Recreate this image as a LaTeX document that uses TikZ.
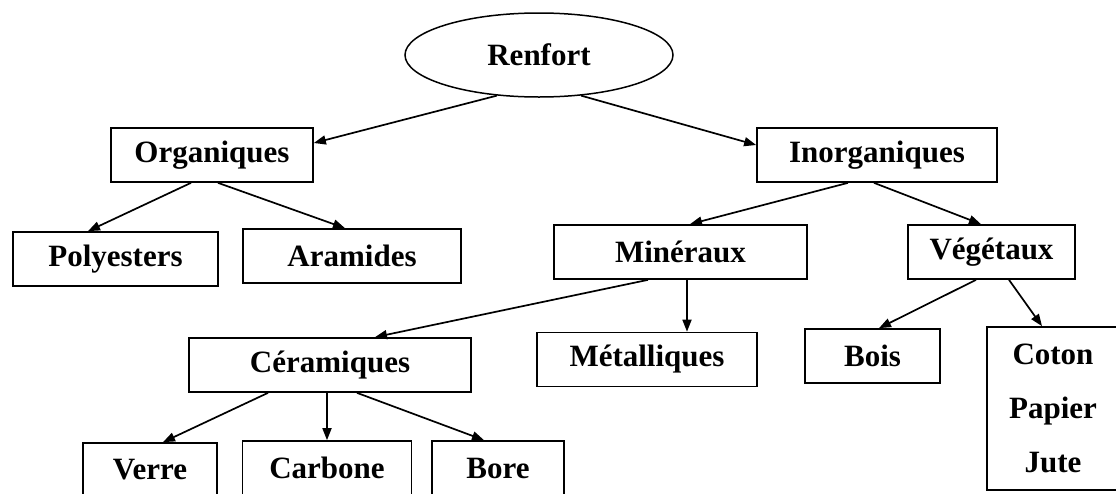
\documentclass[tikz,border=0pt]{standalone}
\usepackage{fontspec}
\setmainfont{Liberation Serif}
\usetikzlibrary{arrows.meta, positioning, shapes.geometric}

\begin{document}
\begin{tikzpicture}[
    x=1pt, y=-1pt,
    on grid,
    classe/.style={rectangle, draw, line width=1.7pt, minimum height=54pt, inner sep=0pt, font=\fontsize{31}{37}\selectfont\bfseries},
    racine/.style={ellipse, draw, line width=1.5pt, minimum width=268pt, minimum height=84pt, inner sep=0pt, font=\fontsize{31}{37}\selectfont\bfseries},
    edge/.style={-{Triangle[length=12pt, width=9pt]}, line width=1.7pt}
]
    \useasboundingbox (0,0) rectangle (1116,493);
    \clip (0,0) rectangle (1116,493);

    \node[racine] (renfort) at (539,55) {Renfort};
    \node[classe, minimum width=202pt, below left=100pt and 327pt of renfort] (org) {Organiques};
    \node[classe, minimum width=240pt, below right=100pt and 338pt of renfort] (inorg) {Inorganiques};

    \node[classe, minimum width=205pt, below left=104pt and 96.5pt of org] (poly) {Polyesters};
    \node[classe, minimum width=218pt, below right=101pt and 140pt of org] (aram) {Aramides};

    \node[classe, minimum width=253pt, below left=97pt and 196.5pt of inorg] (min) {Minéraux};
    \node[classe, minimum width=167pt, below right=97pt and 114.5pt of inorg] (veg) {Végétaux};

    \node[classe, minimum width=282pt, below left=113pt and 350.5pt of min] (ceram) {Céramiques};
    \node[classe, minimum width=220pt, below left=107.5pt and 33.5pt of min] (metal) {Métalliques};
    \node[classe, minimum width=135pt, below left=104pt and 119pt of veg] (bois) {Bois};
    \node[classe, minimum width=132pt, minimum height=163pt, align=center,
          font=\fontsize{31}{54}\selectfont\bfseries,
          below right=156.5pt and 61.5pt of veg] (coton) {Coton\\Papier\\Jute};

    \node[classe, minimum width=134pt, below left=105pt and 180pt of ceram] (verre) {Verre};
    \node[classe, minimum width=169pt, below=103pt of ceram, xshift=-3pt] (carbone) {Carbone};
    \node[classe, minimum width=132pt, below right=103pt and 168pt of ceram] (bore) {Bore};

    \draw[edge] (renfort.224) -- ([yshift=12pt]org.east);
    \draw[edge] (renfort.316) -- ([yshift=10pt]inorg.west);

    \draw[edge] ([xshift=-21pt]org.south) -- ([xshift=-27.5pt]poly.north);
    \draw[edge] ([xshift=6pt]org.south) -- ([xshift=-7pt]aram.north);

    \draw[edge] ([xshift=-29pt]inorg.south) -- ([xshift=9.5pt]min.north);
    \draw[edge] ([xshift=-3pt]inorg.south) -- ([xshift=-10.5pt]veg.north);

    \draw[edge] ([xshift=-32.5pt]min.south) -- ([xshift=45pt]ceram.north);
    \draw[edge] ([xshift=6.5pt]min.south) -- ([xshift=40pt]metal.north);
    \draw[edge] ([xshift=-15.5pt]veg.south) -- ([xshift=6.5pt]bois.north);
    \draw[edge] ([xshift=17.5pt]veg.south) -- ([xshift=-11pt]coton.north);

    \draw[edge] ([xshift=-62pt]ceram.south) -- ([xshift=13pt]verre.north);
    \draw[edge] ([xshift=-3pt]ceram.south) -- (carbone.north);
    \draw[edge] ([xshift=27pt]ceram.south) -- ([xshift=-14pt]bore.north);
\end{tikzpicture}
\end{document}
